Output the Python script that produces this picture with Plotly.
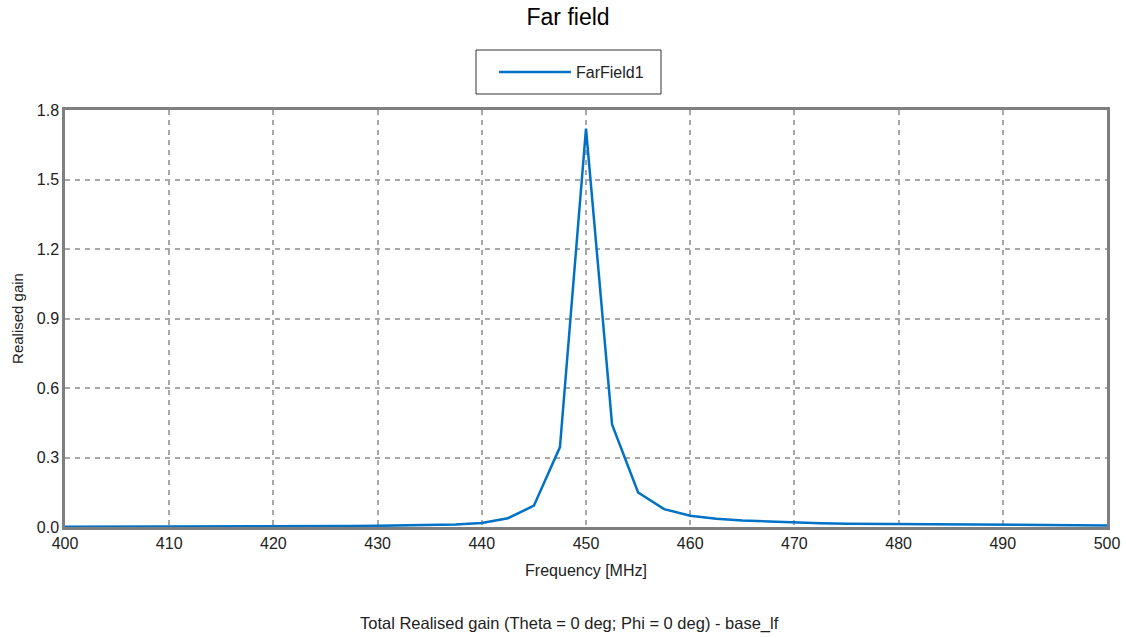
import plotly.graph_objects as go

freq_mhz = [400, 402.5, 405, 407.5, 410, 412.5, 415, 417.5, 420, 422.5, 425, 427.5,
            430, 432.5, 435, 437.5, 440, 442.5, 445, 447.5, 450, 452.5, 455, 457.5,
            460, 462.5, 465, 467.5, 470, 472.5, 475, 477.5, 480, 482.5, 485, 487.5,
            490, 492.5, 495, 497.5, 500]
gain = [0.001, 0.001, 0.0012, 0.0013, 0.0015, 0.0017, 0.002, 0.0022, 0.0025, 0.003,
        0.0035, 0.004, 0.005, 0.006, 0.008, 0.011, 0.017, 0.038, 0.092, 0.345, 1.72,
        0.443, 0.149, 0.077, 0.049, 0.036, 0.028, 0.023, 0.019, 0.016, 0.014, 0.013,
        0.012, 0.011, 0.010, 0.0095, 0.009, 0.0085, 0.008, 0.0075, 0.007]

x_ticks = [400, 410, 420, 430, 440, 450, 460, 470, 480, 490, 500]
y_ticks = [0.0, 0.3, 0.6, 0.9, 1.2, 1.5, 1.8]
y_tick_labels = ["0.0", "0.3", "0.6", "0.9", "1.2", "1.5", "1.8"]

FONT = "Liberation Sans, Arial, sans-serif"
TXT = "#222222"

W, H = 1126, 638
L, R, T, B = 65, 19, 110, 111
PW, PH = W - L - R, H - T - B


def px_x(p):
    return (p - L) / PW


def px_y(p):
    return (H - B - p) / PH


fig = go.Figure()
fig.add_trace(go.Scatter(
    x=freq_mhz, y=gain, mode="lines", name="FarField1",
    line=dict(color="#0072C6", width=2.5),
))

grid = dict(showgrid=True, gridcolor="#a8a8a8", griddash="5px,5px", gridwidth=1.6)

fig.update_layout(
    width=W, height=H,
    margin=dict(l=L, r=R, t=T, b=B),
    paper_bgcolor="white", plot_bgcolor="white",
    font=dict(family=FONT, size=16, color=TXT),
    title=dict(text="Far field", x=0.5045, xanchor="center", y=1 - 17 / H,
               yanchor="middle", yref="container",
               font=dict(size=23, color="#000000", family=FONT)),
    showlegend=True,
    legend=dict(
        x=px_x(494), xanchor="left", y=px_y(72), yanchor="middle",
        bgcolor="rgba(0,0,0,0)", borderwidth=0,
        font=dict(size=16, color=TXT, family=FONT),
        itemwidth=72,
    ),
    shapes=[dict(
        type="rect", xref="paper", yref="paper",
        x0=px_x(476), x1=px_x(661), y0=px_y(94), y1=px_y(50),
        line=dict(color="#333333", width=1), fillcolor="rgba(0,0,0,0)",
        layer="below",
    )],
    xaxis=dict(
        range=[400, 500], tickvals=x_ticks, ticks="", showline=True,
        linecolor="#7f7f7f", linewidth=2.5, mirror=True, automargin=False,
        zeroline=False, **grid,
        title=dict(text="Frequency [MHz]", standoff=14, font=dict(size=16, color=TXT)),
        tickfont=dict(size=16, color=TXT),
    ),
    yaxis=dict(
        range=[0, 1.8], tickvals=y_ticks, ticktext=y_tick_labels, ticks="",
        showline=True, linecolor="#7f7f7f", linewidth=2.5, mirror=True,
        automargin=False, zeroline=False, **grid,
        title=dict(text="Realised gain", standoff=10, font=dict(size=15, color=TXT)),
        tickfont=dict(size=16, color=TXT),
    ),
    annotations=[dict(
        text="Total Realised gain (Theta = 0 deg; Phi = 0 deg) - base_lf",
        xref="paper", yref="paper", x=px_x(569), y=px_y(623),
        xanchor="center", yanchor="middle", showarrow=False,
        font=dict(size=16.5, color=TXT, family=FONT),
    )],
)

fig.write_html("out.html")
